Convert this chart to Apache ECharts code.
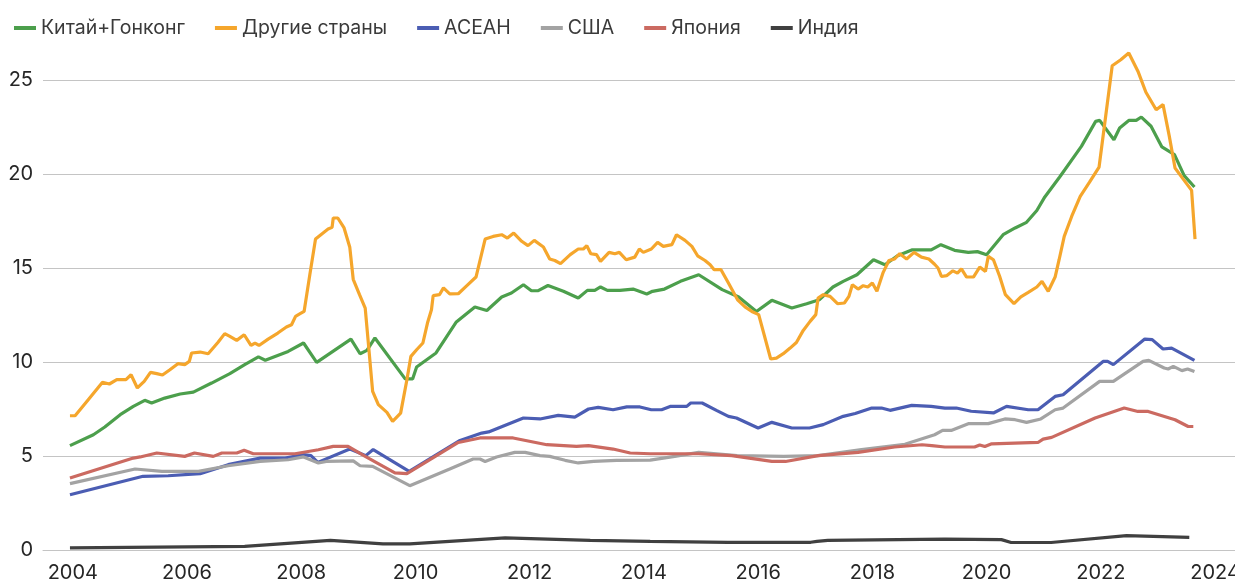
<!DOCTYPE html>
<html>
<head>
<meta charset="utf-8">
<title>chart</title>
<script src="https://cdn.jsdelivr.net/npm/echarts@6/dist/echarts.min.js"></script>
<style>
  html, body { margin: 0; padding: 0; background: #fff; }
  #chart { width: 1235px; height: 584px; }
</style>
</head>
<body>
<div id="chart"></div>
<script>
// названия рядов
var names = ['Китай+Гонконг', 'Другие страны', 'АСЕАН', 'США', 'Япония', 'Индия'];
var colors = ['#4c9f4c', '#f5a62c', '#4b5db3', '#a3a3a3', '#cb6a61', '#404040'];
var yearTicks = [2004, 2006, 2008, 2010, 2012, 2014, 2016, 2018, 2020, 2022, 2024];

// [год, значение]
var chinaHK = [[2003.95,5.55],[2004.36,6.13],[2004.56,6.54],[2004.83,7.20],[2005.06,7.64],[2005.26,7.96],[2005.38,7.82],[2005.61,8.08],[2005.88,8.30],[2006.11,8.40],[2006.43,8.88],[2006.75,9.38],[2007.01,9.86],[2007.25,10.27],[2007.37,10.09],[2007.77,10.56],[2008.04,11.01],[2008.27,9.98],[2008.87,11.22],[2009.03,10.44],[2009.15,10.62],[2009.29,11.28],[2009.82,9.10],[2009.95,9.10],[2010.02,9.73],[2010.36,10.48],[2010.71,12.11],[2011.04,12.93],[2011.25,12.74],[2011.51,13.46],[2011.68,13.67],[2011.89,14.11],[2012.03,13.79],[2012.15,13.80],[2012.32,14.07],[2012.59,13.76],[2012.85,13.40],[2013.01,13.81],[2013.14,13.81],[2013.24,13.99],[2013.36,13.81],[2013.58,13.81],[2013.81,13.88],[2014.05,13.62],[2014.15,13.76],[2014.36,13.88],[2014.64,14.29],[2014.96,14.64],[2015.37,13.85],[2015.66,13.46],[2015.97,12.69],[2016.24,13.28],[2016.59,12.87],[2016.85,13.10],[2017.07,13.31],[2017.31,13.99],[2017.49,14.29],[2017.73,14.64],[2018.02,15.44],[2018.22,15.17],[2018.44,15.65],[2018.69,15.96],[2019.03,15.96],[2019.20,16.24],[2019.44,15.94],[2019.68,15.83],[2019.84,15.87],[2020.00,15.71],[2020.29,16.77],[2020.50,17.13],[2020.70,17.43],[2020.88,18.06],[2021.02,18.78],[2021.28,19.84],[2021.66,21.47],[2021.91,22.80],[2021.98,22.85],[2022.23,21.82],[2022.33,22.45],[2022.49,22.85],[2022.62,22.85],[2022.71,23.03],[2022.88,22.54],[2023.07,21.44],[2023.29,21.03],[2023.46,19.91],[2023.64,19.31]];

var otherCountries = [[2003.95,7.14],[2004.04,7.14],[2004.27,7.99],[2004.52,8.92],[2004.64,8.83],[2004.77,9.06],[2004.93,9.06],[2005.02,9.32],[2005.13,8.62],[2005.25,8.97],[2005.36,9.45],[2005.47,9.38],[2005.57,9.31],[2005.70,9.59],[2005.84,9.91],[2005.96,9.86],[2006.04,10.03],[2006.08,10.48],[2006.23,10.53],[2006.37,10.44],[2006.54,11.04],[2006.66,11.51],[2006.75,11.36],[2006.87,11.15],[2007.00,11.45],[2007.12,10.88],[2007.19,11.01],[2007.26,10.88],[2007.42,11.22],[2007.59,11.54],[2007.74,11.86],[2007.83,11.98],[2007.90,12.43],[2007.98,12.57],[2008.05,12.69],[2008.15,14.64],[2008.25,16.54],[2008.36,16.81],[2008.47,17.07],[2008.54,17.16],[2008.56,17.66],[2008.64,17.66],[2008.75,17.13],[2008.85,16.10],[2008.91,14.40],[2009.02,13.58],[2009.12,12.87],[2009.19,10.48],[2009.25,8.44],[2009.35,7.73],[2009.50,7.32],[2009.60,6.84],[2009.74,7.28],[2009.85,9.06],[2009.92,10.30],[2010.02,10.65],[2010.13,11.01],[2010.21,12.07],[2010.28,12.78],[2010.31,13.53],[2010.42,13.58],[2010.49,13.94],[2010.60,13.62],[2010.75,13.63],[2010.90,14.06],[2011.06,14.52],[2011.22,16.54],[2011.36,16.68],[2011.51,16.77],[2011.61,16.59],[2011.72,16.86],[2011.86,16.42],[2011.97,16.19],[2012.08,16.47],[2012.24,16.12],[2012.35,15.48],[2012.44,15.40],[2012.54,15.23],[2012.71,15.71],[2012.85,16.01],[2012.94,16.01],[2013.00,16.19],[2013.07,15.76],[2013.17,15.71],[2013.24,15.35],[2013.39,15.83],[2013.49,15.76],[2013.57,15.83],[2013.69,15.44],[2013.84,15.58],[2013.92,16.01],[2013.99,15.83],[2014.13,16.01],[2014.24,16.36],[2014.34,16.15],[2014.49,16.24],[2014.57,16.77],[2014.72,16.47],[2014.84,16.15],[2014.94,15.65],[2015.07,15.40],[2015.16,15.17],[2015.23,14.91],[2015.35,14.91],[2015.48,14.20],[2015.64,13.31],[2015.77,12.93],[2015.89,12.69],[2016.01,12.52],[2016.22,10.16],[2016.32,10.21],[2016.44,10.44],[2016.56,10.74],[2016.67,11.04],[2016.79,11.68],[2016.91,12.16],[2017.01,12.52],[2017.05,13.40],[2017.14,13.58],[2017.26,13.49],[2017.39,13.10],[2017.51,13.14],[2017.59,13.49],[2017.65,14.11],[2017.75,13.88],[2017.84,14.06],[2017.92,13.99],[2018.00,14.20],[2018.08,13.76],[2018.19,14.77],[2018.29,15.40],[2018.39,15.48],[2018.48,15.76],[2018.60,15.48],[2018.73,15.83],[2018.86,15.58],[2018.99,15.48],[2019.09,15.20],[2019.15,15.00],[2019.21,14.55],[2019.30,14.59],[2019.41,14.85],[2019.49,14.73],[2019.56,14.95],[2019.65,14.52],[2019.77,14.52],[2019.88,15.05],[2019.98,14.82],[2020.03,15.62],[2020.12,15.44],[2020.23,14.55],[2020.33,13.58],[2020.48,13.10],[2020.60,13.46],[2020.73,13.70],[2020.88,13.99],[2020.97,14.29],[2021.08,13.76],[2021.20,14.52],[2021.27,15.44],[2021.36,16.68],[2021.49,17.74],[2021.64,18.81],[2021.80,19.55],[2021.97,20.37],[2022.20,25.76],[2022.35,26.08],[2022.49,26.44],[2022.65,25.47],[2022.79,24.35],[2022.97,23.42],[2023.09,23.69],[2023.20,22.00],[2023.30,20.32],[2023.45,19.70],[2023.59,19.13],[2023.65,16.54]];

var asean = [[2003.95,2.94],[2005.23,3.92],[2005.67,3.95],[2006.23,4.06],[2006.72,4.54],[2007.28,4.89],[2007.72,4.89],[2008.04,5.07],[2008.17,5.02],[2008.29,4.66],[2008.85,5.37],[2009.13,5.02],[2009.26,5.34],[2009.89,4.18],[2010.78,5.83],[2011.16,6.22],[2011.28,6.28],[2011.89,7.02],[2012.18,6.97],[2012.50,7.16],[2012.79,7.07],[2013.03,7.50],[2013.20,7.59],[2013.46,7.46],[2013.70,7.61],[2013.93,7.61],[2014.13,7.46],[2014.31,7.46],[2014.47,7.64],[2014.75,7.64],[2014.82,7.82],[2015.02,7.82],[2015.27,7.43],[2015.48,7.11],[2015.62,7.02],[2016.00,6.49],[2016.24,6.79],[2016.59,6.49],[2016.90,6.49],[2017.14,6.67],[2017.49,7.11],[2017.70,7.26],[2017.99,7.55],[2018.16,7.55],[2018.31,7.43],[2018.69,7.69],[2019.03,7.64],[2019.27,7.55],[2019.47,7.55],[2019.73,7.38],[2020.12,7.29],[2020.35,7.64],[2020.73,7.46],[2020.90,7.46],[2021.20,8.17],[2021.34,8.26],[2022.04,10.03],[2022.12,10.03],[2022.22,9.86],[2022.77,11.22],[2022.90,11.19],[2023.09,10.69],[2023.24,10.74],[2023.64,10.09]];

var usa = [[2003.95,3.53],[2005.09,4.31],[2005.56,4.18],[2006.20,4.18],[2006.72,4.48],[2007.28,4.71],[2007.77,4.80],[2008.04,4.95],[2008.30,4.63],[2008.44,4.71],[2008.91,4.74],[2009.03,4.48],[2009.25,4.45],[2009.90,3.42],[2010.60,4.31],[2011.01,4.84],[2011.13,4.84],[2011.22,4.71],[2011.42,4.95],[2011.74,5.19],[2011.92,5.19],[2012.18,5.02],[2012.35,4.98],[2012.62,4.77],[2012.85,4.63],[2013.12,4.71],[2013.52,4.77],[2014.11,4.78],[2014.54,4.98],[2014.96,5.19],[2015.63,5.02],[2016.45,4.98],[2017.05,5.02],[2017.81,5.34],[2018.57,5.62],[2019.09,6.13],[2019.23,6.36],[2019.38,6.36],[2019.68,6.72],[2020.03,6.72],[2020.32,6.97],[2020.50,6.93],[2020.70,6.79],[2020.95,6.97],[2021.20,7.46],[2021.34,7.55],[2021.98,8.97],[2022.22,8.97],[2022.74,10.03],[2022.84,10.09],[2023.11,9.68],[2023.18,9.63],[2023.27,9.77],[2023.42,9.54],[2023.52,9.63],[2023.64,9.50]];

var japan = [[2003.95,3.83],[2005.06,4.89],[2005.18,4.95],[2005.47,5.16],[2005.96,4.98],[2006.13,5.16],[2006.46,4.98],[2006.61,5.16],[2006.87,5.16],[2007.00,5.30],[2007.16,5.12],[2007.89,5.12],[2008.30,5.33],[2008.56,5.51],[2008.82,5.51],[2009.12,4.98],[2009.64,4.10],[2009.85,4.06],[2010.75,5.72],[2011.13,5.96],[2011.71,5.96],[2012.30,5.60],[2012.82,5.51],[2013.03,5.55],[2013.46,5.37],[2013.76,5.16],[2014.11,5.12],[2014.60,5.12],[2014.96,5.12],[2015.54,5.02],[2016.24,4.71],[2016.48,4.71],[2017.05,5.02],[2017.75,5.19],[2018.39,5.48],[2018.87,5.60],[2019.04,5.55],[2019.27,5.48],[2019.79,5.48],[2019.88,5.59],[2019.97,5.50],[2020.09,5.65],[2020.90,5.72],[2020.99,5.90],[2021.14,5.99],[2021.90,7.02],[2022.41,7.55],[2022.65,7.37],[2022.83,7.37],[2023.30,6.93],[2023.53,6.57],[2023.62,6.57]];

var india = [[2003.95,0.11],[2007.01,0.19],[2008.51,0.51],[2009.43,0.33],[2009.90,0.33],[2011.57,0.64],[2013.06,0.51],[2014.11,0.46],[2015.47,0.41],[2016.92,0.41],[2017.03,0.46],[2017.22,0.51],[2019.27,0.58],[2020.26,0.55],[2020.43,0.40],[2021.13,0.40],[2022.45,0.76],[2023.55,0.67]];

var seriesData = [chinaHK, otherCountries, asean, usa, japan, india];

var chart = echarts.init(document.getElementById('chart'));

var option = {
  animation: false,
  color: colors,
  textStyle: { fontFamily: 'Inter, "Noto Sans", sans-serif' },
  legend: {
    left: 9,
    top: 13,
    icon: 'rect',
    itemWidth: 22,
    itemHeight: 4,
    itemGap: 30,
    textStyle: { fontSize: 19.5, color: '#3a3a3a' },
    data: names
  },
  grid: {
    left: 43,
    right: 0,
    top: 80,
    bottom: 34,
    outerBoundsMode: 'none'
  },
  xAxis: {
    type: 'value',
    min: 2003.478,
    max: 2024.35,
    axisLine: { show: true, onZero: false, lineStyle: { color: '#c4c4c4', width: 1 } },
    axisTick: { show: false },
    splitLine: { show: false },
    axisLabel: {
      customValues: yearTicks,
      fontSize: 20,
      color: '#262626',
      margin: 13,
      formatter: function (v) { return String(v); }
    }
  },
  yAxis: {
    type: 'value',
    min: 0,
    max: 25,
    interval: 5,
    axisLine: { show: false },
    axisTick: { show: false },
    splitLine: { lineStyle: { color: '#c4c4c4', width: 1 } },
    axisLabel: {
      fontSize: 20,
      color: '#262626',
      margin: 10,
      verticalAlign: 'middle',
      padding: [0, 0, 16, 0]
    }
  },
  series: names.map(function (name, i) {
    return {
      name: name,
      type: 'line',
      data: seriesData[i],
      showSymbol: false,
      symbol: 'none',
      clip: false,
      lineStyle: { width: 3.2, color: colors[i] },
      itemStyle: { color: colors[i] }
    };
  })
};

chart.setOption(option);
</script>
</body>
</html>
